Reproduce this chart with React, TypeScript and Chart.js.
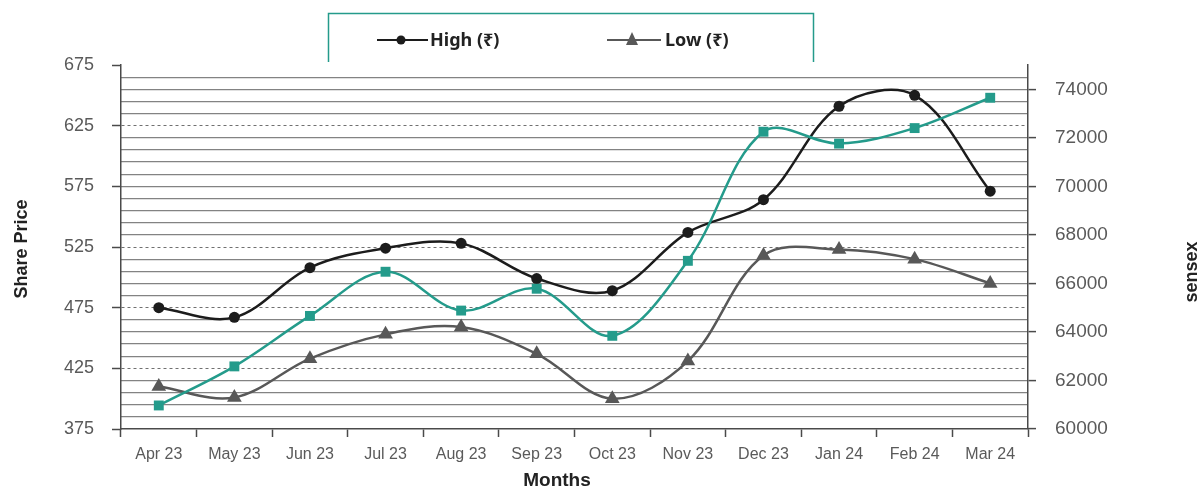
import React, { useEffect, useRef } from 'react';
import { Chart, registerables } from 'chart.js';

Chart.register(...registerables);

const months = ['Apr 23', 'May 23', 'Jun 23', 'Jul 23', 'Aug 23', 'Sep 23', 'Oct 23', 'Nov 23', 'Dec 23', 'Jan 24', 'Feb 24', 'Mar 24'];
const highValues = [475, 467, 508, 524, 528, 499, 489, 537, 564, 641, 650, 571];
const lowValues = [410, 401, 433, 453, 459, 437, 400, 431, 518, 523, 515, 495];
const sensexValues = [60970, 62580, 64660, 66480, 64880, 65780, 63840, 66930, 72250, 71760, 72400, 73650];

const leftMin = 375;
const leftMax = 675;
const leftStep = 50;
const rightMin = 60000;
const rightMax = 75000;
const rightStep = 500;
const rightLabelStep = 2000;

const legendHigh = 'High (₹)';
const legendLow = 'Low (₹)';
const leftTitle = 'Share Price';
const rightTitle = 'sensex';
const bottomTitle = 'Months';

const TEAL = '#249b8b';
const BLACK = '#1c1c1c';
const GREY = '#585858';
const GRID = '#838383';
const AXIS = '#4a4a4a';
const TICK_TEXT = '#5a5a5a';
const FONT = '"Liberation Sans", Arial, sans-serif';

const overlayPlugin = {
  id: 'overlay',
  afterDraw(chart: any) {
    const ctx = chart.ctx as CanvasRenderingContext2D;
    const area = chart.chartArea;
    ctx.save();
    // legend frame
    ctx.strokeStyle = TEAL;
    ctx.lineWidth = 1.5;
    ctx.beginPath();
    ctx.moveTo(328.5, 62);
    ctx.lineTo(328.5, 13.5);
    ctx.lineTo(813.5, 13.5);
    ctx.lineTo(813.5, 62);
    ctx.stroke();

    // legend High
    const ly = 40;
    ctx.strokeStyle = BLACK;
    ctx.lineWidth = 2;
    ctx.beginPath();
    ctx.moveTo(377, ly);
    ctx.lineTo(428, ly);
    ctx.stroke();
    ctx.fillStyle = BLACK;
    ctx.beginPath();
    ctx.arc(401, ly, 4.5, 0, Math.PI * 2);
    ctx.fill();
    ctx.font = 'bold 18px "Noto Sans", "DejaVu Sans", sans-serif';
    ctx.textAlign = 'left';
    ctx.textBaseline = 'middle';
    ctx.fillStyle = '#222';
    ctx.fillText(legendHigh, 430, ly + 1);

    // legend Low
    ctx.strokeStyle = GREY;
    ctx.lineWidth = 2;
    ctx.beginPath();
    ctx.moveTo(607, ly);
    ctx.lineTo(661, ly);
    ctx.stroke();
    ctx.fillStyle = GREY;
    ctx.beginPath();
    ctx.moveTo(632, ly - 8);
    ctx.lineTo(638, ly + 5);
    ctx.lineTo(626, ly + 5);
    ctx.closePath();
    ctx.fill();
    ctx.fillStyle = '#222';
    ctx.fillText(legendLow, 665, ly + 1);

    // axis titles
    ctx.fillStyle = '#222';
    ctx.font = 'bold 18px ' + FONT;
    ctx.textAlign = 'center';
    ctx.textBaseline = 'middle';
    ctx.save();
    ctx.translate(22, (area.top + area.bottom) / 2 + 2);
    ctx.rotate(-Math.PI / 2);
    ctx.fillText(leftTitle, 0, 0);
    ctx.restore();

    ctx.save();
    ctx.translate(1192, 272);
    ctx.rotate(-Math.PI / 2);
    ctx.fillText(rightTitle, 0, 0);
    ctx.restore();

    ctx.font = 'bold 19px ' + FONT;
    ctx.fillText(bottomTitle, 557, 481);
    ctx.restore();
  },
};

export default function App() {
  const ref = useRef<HTMLCanvasElement | null>(null);

  useEffect(() => {
    document.body.style.margin = '0';
    const canvas = ref.current;
    if (!canvas) return;

    const dashedLeft = [625, 525, 475, 425];
    const hiddenRight = [72500, 67500, 65000, 62500, 75000, 60000];

    const chart = new Chart(canvas, {
      type: 'line',
      data: {
        labels: months,
        datasets: [
          {
            label: 'sensex',
            data: sensexValues,
            yAxisID: 'y1',
            borderColor: TEAL,
            backgroundColor: TEAL,
            borderWidth: 2.5,
            pointStyle: 'rect',
            pointRadius: 7,
            pointBorderWidth: 0,
            tension: 0.35,
          },
          {
            label: legendLow,
            data: lowValues,
            yAxisID: 'y',
            borderColor: GREY,
            backgroundColor: GREY,
            borderWidth: 2.5,
            pointStyle: 'triangle',
            pointRadius: 8.5,
            pointBorderWidth: 0,
            tension: 0.35,
          },
          {
            label: legendHigh,
            data: highValues,
            yAxisID: 'y',
            borderColor: BLACK,
            backgroundColor: BLACK,
            borderWidth: 2.5,
            pointStyle: 'circle',
            pointRadius: 5.5,
            pointBorderWidth: 0,
            tension: 0.35,
          },
        ],
      },
      options: {
        animation: false,
        responsive: false,
        maintainAspectRatio: false,
        layout: { padding: { top: 65, left: 0, right: 0, bottom: 0 } },
        plugins: {
          legend: { display: false },
          tooltip: { enabled: false },
        },
        scales: {
          x: {
            type: 'category',
            offset: true,
            afterFit: (s: any) => { s.height = 60; },
            grid: {
              offset: true,
              drawOnChartArea: false,
              drawTicks: true,
              tickLength: 8,
              tickColor: AXIS,
              tickWidth: 1.5,
            },
            border: { color: AXIS, width: 1.5 },
            ticks: {
              color: TICK_TEXT,
              font: { family: FONT, size: 16 },
              padding: 8,
              maxRotation: 0,
              autoSkip: false,
            },
          },
          y: {
            type: 'linear',
            position: 'left',
            min: leftMin,
            max: leftMax,
            afterFit: (s: any) => { s.width = 121; },
            grid: {
              color: (c: any) => (c.tick && dashedLeft.includes(c.tick.value) ? '#707070' : 'rgba(0,0,0,0)'),
              lineWidth: 1,
              tickColor: AXIS,
              tickLength: 9,
              tickWidth: 1.5,
              borderDash: [3, 3],
            } as any,
            border: { color: AXIS, width: 1.5, dash: [3, 3] } as any,
            ticks: {
              stepSize: leftStep,
              color: TICK_TEXT,
              font: { family: FONT, size: 18 },
              padding: 18,
            },
          },
          y1: {
            type: 'linear',
            position: 'right',
            min: rightMin,
            max: rightMax,
            afterFit: (s: any) => { s.width = 173; },
            grid: {
              color: (c: any) => (c.tick && hiddenRight.includes(c.tick.value) ? 'rgba(0,0,0,0)' : GRID),
              lineWidth: 1.2,
              tickColor: (c: any) => (c.tick && c.tick.value % rightLabelStep === 0 && c.tick.value < rightMax ? AXIS : 'rgba(0,0,0,0)'),
              tickLength: 8,
              tickWidth: 1.5,
            },
            border: { color: AXIS, width: 1.5 },
            ticks: {
              stepSize: rightStep,
              autoSkip: false,
              color: TICK_TEXT,
              font: { family: FONT, size: 19 },
              padding: 19,
              callback: (v: any) => (v % rightLabelStep === 0 && v < rightMax ? String(v) : ''),
            },
          },
        },
      },
      plugins: [overlayPlugin],
    } as any);

    return () => chart.destroy();
  }, []);

  return (
    <div style={{ width: 1201, height: 489 }}>
      <canvas ref={ref} width={1201} height={489} style={{ display: 'block', width: 1201, height: 489 }} />
    </div>
  );
}
